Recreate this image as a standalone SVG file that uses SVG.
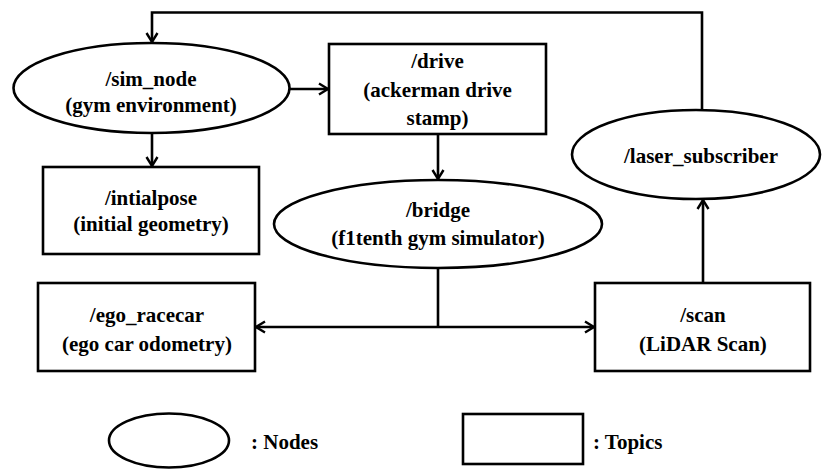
<svg xmlns="http://www.w3.org/2000/svg" width="822" height="469" viewBox="0 0 822 469">
<defs>
<marker id="arr" markerUnits="userSpaceOnUse" markerWidth="14" markerHeight="14" refX="11" refY="7" orient="auto">
<path d="M2,1.5 L11,7 L2,12.5" fill="none" stroke="#000" stroke-width="2.4" stroke-linejoin="miter"/>
</marker>
</defs>
<style>
.shape{fill:#fff;stroke:#000;stroke-width:2.6}
.conn{fill:none;stroke:#000;stroke-width:2.6}
.t{fill:#000;text-anchor:middle}
.leg{text-anchor:start}
</style>
<rect width="822" height="469" fill="#fff"/>
<g id="connectors">
<polyline class="conn" points="702,110 702,12.5 152,12.5 152,42" marker-end="url(#arr)"/>
<line class="conn" x1="290" y1="89" x2="328" y2="89" marker-end="url(#arr)"/>
<line class="conn" x1="152" y1="133" x2="152" y2="166" marker-end="url(#arr)"/>
<line class="conn" x1="438" y1="134" x2="438" y2="179" marker-end="url(#arr)"/>
<line class="conn" x1="438" y1="268" x2="438" y2="327"/>
<line class="conn" x1="438" y1="327" x2="256" y2="327" marker-end="url(#arr)"/>
<line class="conn" x1="438" y1="327" x2="594" y2="327" marker-end="url(#arr)"/>
<line class="conn" x1="703" y1="283" x2="703" y2="200" marker-end="url(#arr)"/>
</g>
<g font-family="Liberation Serif, Times New Roman, serif" font-weight="700" font-size="21">
<g id="sim_node">
<ellipse class="shape" cx="151.5" cy="88" rx="138" ry="45"/>
<text class="t" x="151" y="86">/sim_node</text>
<text class="t" x="151" y="112">(gym environment)</text>
</g>
<g id="drive">
<rect class="shape" x="329" y="44" width="217" height="90"/>
<text class="t" x="437.5" y="68">/drive</text>
<text class="t" x="437.5" y="97">(ackerman drive</text>
<text class="t" x="437.5" y="125">stamp)</text>
</g>
<g id="intialpose">
<rect class="shape" x="43" y="167" width="216" height="87"/>
<text class="t" x="151" y="205">/intialpose</text>
<text class="t" x="151" y="231">(initial geometry)</text>
</g>
<g id="bridge">
<ellipse class="shape" cx="438" cy="224" rx="164" ry="44"/>
<text class="t" x="438" y="217">/bridge</text>
<text class="t" x="438" y="245">(f1tenth gym simulator)</text>
</g>
<g id="laser_subscriber">
<ellipse class="shape" cx="696" cy="154.5" rx="124" ry="44.5"/>
<text class="t" x="701" y="163">/laser_subscriber</text>
</g>
<g id="ego_racecar">
<rect class="shape" x="38" y="283" width="217" height="88"/>
<text class="t" x="147" y="322">/ego_racecar</text>
<text class="t" x="147" y="351">(ego car odometry)</text>
</g>
<g id="scan">
<rect class="shape" x="595" y="283" width="215" height="88"/>
<text class="t" x="703" y="322">/scan</text>
<text class="t" x="703" y="351">(LiDAR Scan)</text>
</g>
<g id="legend">
<ellipse class="shape" cx="169" cy="440.5" rx="60" ry="27"/>
<text class="t leg" x="251" y="449">:  Nodes</text>
<rect class="shape" x="463" y="414" width="120" height="50"/>
<text class="t leg" x="593" y="449">:  Topics</text>
</g>
</g>
</svg>
